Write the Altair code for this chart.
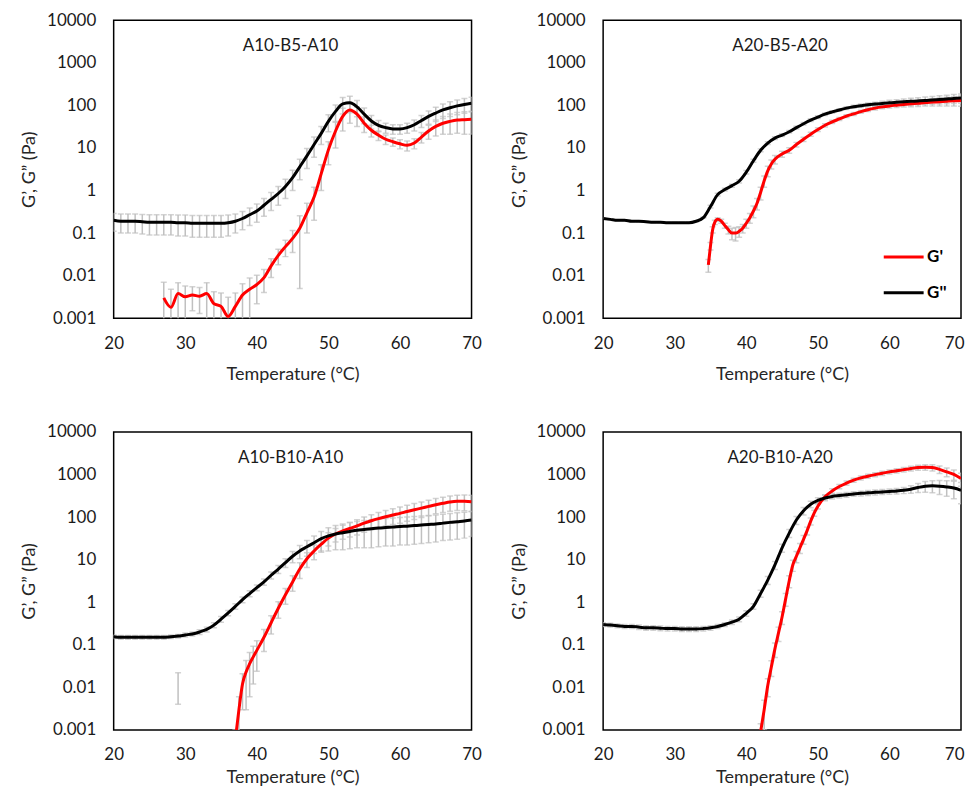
import altair as alt
import pandas as pd

# ---------------- data ----------------
TEMP = list(range(20, 71))  # 20..70 °C, 1 °C step

PANEL_TITLES = ["A10-B5-A10", "A20-B5-A20", "A10-B10-A10", "A20-B10-A20"]
SERIES = ["G'", "G''"]

# --- A10-B5-A10 ---
P1_G2 = [0.20, 0.19, 0.19, 0.19, 0.185, 0.18, 0.18, 0.18, 0.18, 0.175, 0.175, 0.17, 0.17, 0.17, 0.17, 0.17,
         0.175, 0.19, 0.22, 0.27, 0.33, 0.45, 0.62, 0.85, 1.25, 2.0, 3.6, 6.5, 12, 22, 42, 72, 108, 115, 92,
         62, 43, 34, 30, 28, 28, 30, 35, 44, 55, 66, 78, 88, 97, 105, 112]
P1_G2_SD = [0.09] * 17 + [0.09, 0.1, 0.12, 0.15, 0.2, 0.28, 0.4, 0.6, 1.0, 1.8, 3.2, 6, 10, 18, 30, 45, 48, 38,
                          25, 15, 10, 8, 7, 7, 8, 10, 14, 19, 24, 29, 33, 37, 40, 42]
P1_G1_T = list(range(27, 71))
P1_G1 = [0.003, 0.0018, 0.0038, 0.0032, 0.0035, 0.0033, 0.0038, 0.0022, 0.0019, 0.0011, 0.0019, 0.0035, 0.0048,
         0.0062, 0.009, 0.017, 0.03, 0.048, 0.075, 0.13, 0.3, 0.7, 2.5, 9, 25, 55, 78, 62, 38, 26, 20, 16, 14,
         12.5, 11.5, 13, 18, 25, 32, 38, 42, 45, 46, 47]
P1_G1_SD = [0.004, 0.003, 0.003, 0.0025, 0.002, 0.002, 0.003, 0.002, 0.002, 0.002, 0.002, 0.003, 0.004, 0.004,
            0.005, 0.008, 0.012, 0.02, 0.04, 0.125, 0.2, 0.5, 1.5, 5, 15, 30, 40, 30, 15, 8, 5, 4, 3, 3, 3, 3.5,
            5, 9, 13, 17, 21, 23, 25, 26]

# --- A20-B5-A20 ---
P2_G2 = [0.22, 0.21, 0.2, 0.2, 0.19, 0.19, 0.185, 0.18, 0.18, 0.175, 0.175, 0.175, 0.175, 0.19, 0.23, 0.42, 0.8,
         1.05, 1.3, 1.65, 2.7, 5, 8.8, 13, 17, 20, 24, 30, 37, 45, 53, 62, 70, 78, 86, 93, 98, 103, 107, 111, 115,
         118, 121, 124, 127, 130, 134, 137, 141, 145, 148]
P2_G2_SD = [0.005] * 15 + [0.03, 0.06, 0.08, 0.1, 0.15, 0.25, 0.4, 0.7, 1.0, 1.2, 1.4, 1.7, 2.1, 2.6, 3.2, 3.7,
                           4.3, 4.9, 5.5, 6.5, 7.5, 9, 10, 12, 14, 16, 18, 20, 22, 24, 26, 28, 30, 32, 34, 36]
P2_G1_T = [34.7, 35, 35.3, 35.6, 36, 36.5, 37, 37.5, 38, 38.5, 39, 39.5, 40, 40.5, 41, 41.5, 42, 42.5, 43, 43.5,
           44] + list(range(45, 71))
P2_G1 = [0.018, 0.05, 0.12, 0.18, 0.21, 0.19, 0.15, 0.12, 0.1, 0.1, 0.11, 0.13, 0.17, 0.23, 0.33, 0.5, 0.9, 1.7,
         2.9, 4.2, 5.4, 7.2, 8.8, 12, 16, 21, 27, 34, 41, 48, 56, 63, 71, 79, 86, 92, 97, 101, 105, 109, 112, 116,
         119, 122, 125, 128, 130]
P2_G1_SD = [0.006, 0.01, 0.02, 0.02, 0.02, 0.02, 0.02, 0.025, 0.03, 0.035, 0.03, 0.03, 0.04, 0.06, 0.1, 0.15, 0.3,
            0.5, 0.8, 1.0, 1.2, 1.2, 1.3, 1.5, 1.8, 2.2, 2.6, 3, 3.5, 4, 4.5, 5, 6, 7, 8, 9, 10, 12, 14, 16, 18,
            20, 23, 26, 29, 32, 35]

# --- A10-B10-A10 ---
P3_G2 = [0.155, 0.15, 0.15, 0.15, 0.15, 0.15, 0.15, 0.15, 0.155, 0.16, 0.17, 0.18, 0.2, 0.23, 0.29, 0.4, 0.56,
         0.8, 1.15, 1.6, 2.2, 3.0, 4.3, 6.0, 8.5, 12, 16, 20, 25, 31, 36, 40, 43, 46, 49, 51, 53, 55, 57, 58, 60,
         61, 63, 65, 67, 69, 72, 75, 78, 81, 85]
P3_G2_SD = [0.015] * 10 + [0.018, 0.02, 0.025, 0.03, 0.04, 0.06, 0.08, 0.12, 0.18, 0.25, 0.35, 0.5, 0.8, 1.3, 2,
                           3.5, 5.5, 8, 11, 15, 20, 23, 26, 28, 30, 32, 34, 35, 36, 37, 38, 39, 40, 41, 42, 43,
                           44, 46, 48, 49, 50]
P3_G1_T = [37, 37.5, 38, 38.5, 39, 39.5, 40] + list(range(41, 71))
P3_G1 = [0.0006, 0.003, 0.012, 0.023, 0.036, 0.052, 0.074, 0.15, 0.33, 0.72, 1.5, 3.0, 6.0, 10.5, 16, 23, 32, 40,
         47, 54, 62, 72, 82, 92, 102, 112, 122, 135, 148, 162, 178, 195, 210, 225, 234, 236, 230]
P3_G1_SD = [0.0004, 0.003, 0.009, 0.02, 0.03, 0.04, 0.05, 0.08, 0.15, 0.3, 0.6, 1.2, 2.4, 4, 6, 8, 11, 14, 17, 20,
            24, 28, 32, 36, 40, 45, 50, 55, 60, 65, 70, 76, 82, 88, 92, 95, 95]
# lone G' point (no line neighbours) with its error bar
P3_G1_LONE_T = [29]
P3_G1_LONE = [0.013]
P3_G1_LONE_SD = [0.009]

# --- A20-B10-A20 ---
P4_G2 = [0.3, 0.29, 0.28, 0.27, 0.27, 0.26, 0.25, 0.25, 0.245, 0.24, 0.24, 0.235, 0.235, 0.235, 0.24, 0.25, 0.27,
         0.3, 0.34, 0.4, 0.55, 0.8, 1.6, 3.3, 7.5, 19, 42, 85, 140, 200, 245, 280, 305, 320, 335, 350, 360, 370,
         380, 390, 400, 410, 425, 450, 495, 530, 540, 530, 510, 480, 425]
P4_G2_SD = [0.03] * 18 + [0.04, 0.05, 0.08, 0.12, 0.3, 0.7, 1.6, 4, 9, 18, 28, 35, 40, 40, 40, 40, 42, 44, 46, 48,
                          50, 52, 55, 60, 70, 90, 120, 150, 170, 190, 200, 210, 220]
P4_G1_T = [42, 42.5, 43, 43.5, 44, 44.5, 45, 45.5, 46, 46.5, 47, 47.5, 48, 48.5, 49, 49.5, 50] + list(range(51, 71))
P4_G1 = [0.0009, 0.003, 0.011, 0.03, 0.08, 0.19, 0.45, 1.2, 3.2, 7.5, 12, 19, 30, 48, 80, 125, 180, 300, 410, 520,
         630, 740, 830, 910, 990, 1070, 1150, 1220, 1300, 1380, 1450, 1480, 1450, 1320, 1150, 1000, 800]
P4_G1_SD = [0.0005, 0.002, 0.005, 0.012, 0.03, 0.07, 0.15, 0.4, 1.0, 2.2, 3.5, 5, 7, 10, 15, 20, 25, 35, 50, 60,
            70, 80, 90, 100, 110, 120, 130, 140, 150, 170, 190, 220, 250, 260, 270, 270, 270]

X_TICKS = [20, 30, 40, 50, 60, 70]
Y_TICKS = [0.001, 0.01, 0.1, 1, 10, 100, 1000, 10000]

# ---------------- styling ----------------
RED = "#ff0000"
BLACK = "#000000"
GREY = "#c0c0c0"
FONT = "Lato"
W, H = 359, 299


def frame(t, v, sd, name):
    rows = []
    for a, b, c in zip(t, v, sd):
        lo = b - c
        rows.append({"T": a, "v": b, "lo": lo if lo > 0 else 1e-6, "hi": b + c, "s": name})
    return pd.DataFrame(rows)


def panel(title, g1, g2, extra=None, legend=None, x_title_pad=14, right_edge=False):
    err = pd.concat([g1, g2] + ([extra] if extra is not None else []), ignore_index=True)
    xs = alt.Scale(domain=[20, 70], nice=False, zero=False)
    ys = alt.Scale(type="log", domain=[0.001, 10000], nice=False)
    xaxis_kw = dict(values=X_TICKS, title="Temperature (°C)", labelFlush=False, labelPadding=17,
                    titlePadding=x_title_pad, format="d")
    if right_edge:
        # keep the last label inside the page edge
        xaxis_kw["labelAlign"] = {"condition": {"test": "datum.value == 70", "value": "right"}, "value": "center"}
        xaxis_kw["labelOffset"] = {"condition": {"test": "datum.value == 70", "value": 3}, "value": 0}
    xaxis = alt.Axis(**xaxis_kw)
    yaxis = alt.Axis(values=Y_TICKS, title="G’, G” (Pa)", format="~g", labelPadding=18, titlePadding=8,
                     labelOverlap=False)
    X = alt.X("T:Q", scale=xs, axis=xaxis)
    cscale = alt.Scale(domain=SERIES, range=[RED, BLACK])
    base = alt.Chart(err)
    rules = base.mark_rule(color=GREY, strokeWidth=1.5, clip=True).encode(
        x=X, y=alt.Y("lo:Q", scale=ys, axis=yaxis), y2="hi:Q")
    cap_lo = base.mark_tick(color=GREY, thickness=1.5, size=6, orient="horizontal", clip=True).encode(
        x=X, y=alt.Y("lo:Q", scale=ys, axis=yaxis))
    cap_hi = base.mark_tick(color=GREY, thickness=1.5, size=6, orient="horizontal", clip=True).encode(
        x=X, y=alt.Y("hi:Q", scale=ys, axis=yaxis))
    layers = [rules, cap_lo, cap_hi]
    for df in (g1, g2):
        enc = dict(x=X, y=alt.Y("v:Q", scale=ys, axis=yaxis))
        if legend is not None:
            enc["color"] = alt.Color("s:N", scale=cscale, legend=legend)
        else:
            enc["color"] = alt.Color("s:N", scale=cscale, legend=None)
        layers.append(alt.Chart(df).mark_line(strokeWidth=3, clip=True, interpolate="monotone").encode(**enc))
    ttl = alt.Chart(pd.DataFrame({"t": [title]})).mark_text(
        font=FONT, fontSize=17, color="#1a1a1a", baseline="middle", align="center").encode(
        text="t:N", x=alt.value(W / 2 - 2), y=alt.value(26))
    layers.append(ttl)
    return alt.layer(*layers).properties(width=W, height=H)


legend2 = alt.Legend(orient="none", legendX=280, legendY=216, title=None, symbolType="stroke",
                     symbolSize=1600, symbolStrokeWidth=3, labelFont=FONT, labelFontSize=17,
                     labelFontWeight="bold", labelColor="#000000", labelOffset=2, rowPadding=6, padding=0)

p1 = panel(PANEL_TITLES[0], frame(P1_G1_T, P1_G1, P1_G1_SD, SERIES[0]), frame(TEMP, P1_G2, P1_G2_SD, SERIES[1]))
p2 = panel(PANEL_TITLES[1], frame(P2_G1_T, P2_G1, P2_G1_SD, SERIES[0]), frame(TEMP, P2_G2, P2_G2_SD, SERIES[1]),
           legend=legend2, right_edge=True)
p3 = panel(PANEL_TITLES[2], frame(P3_G1_T, P3_G1, P3_G1_SD, SERIES[0]), frame(TEMP, P3_G2, P3_G2_SD, SERIES[1]),
           extra=frame(P3_G1_LONE_T, P3_G1_LONE, P3_G1_LONE_SD, SERIES[0]), x_title_pad=6)
p4 = panel(PANEL_TITLES[3], frame(P4_G1_T, P4_G1, P4_G1_SD, SERIES[0]), frame(TEMP, P4_G2, P4_G2_SD, SERIES[1]),
           x_title_pad=6, right_edge=True)

row1 = alt.hconcat(p1, p2, spacing=26).resolve_scale(color="independent")
row2 = alt.hconcat(p3, p4, spacing=26).resolve_scale(color="independent")

chart = alt.vconcat(row1, row2, spacing=38).resolve_scale(color="independent").properties(
    padding={"left": 11, "top": 1, "right": 0, "bottom": -2}
).configure_view(stroke="#000000", strokeWidth=1.5).configure_axis(
    grid=False, domain=False, ticks=False, labelFont=FONT, labelFontSize=17, labelColor="#1a1a1a",
    titleFont=FONT, titleFontSize=18, titleFontWeight="normal", titleColor="#262626"
)

chart.save("out.html", embed_options={"renderer": "svg", "actions": False})
